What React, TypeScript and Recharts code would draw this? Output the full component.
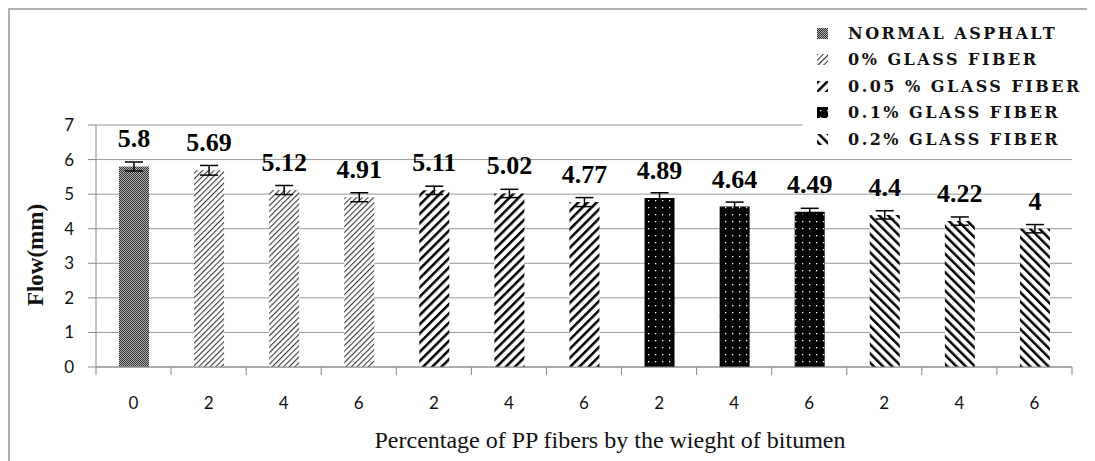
import { BarChart, Bar, XAxis, YAxis, CartesianGrid, Cell, ErrorBar, LabelList, Legend, Label } from "recharts";

const categories = ["0", "2", "4", "6", "2", "4", "6", "2", "4", "6", "2", "4", "6"];
const flowValues = [5.8, 5.69, 5.12, 4.91, 5.11, 5.02, 4.77, 4.89, 4.64, 4.49, 4.4, 4.22, 4];
const flowErrors = [0.13, 0.14, 0.13, 0.13, 0.12, 0.12, 0.13, 0.15, 0.13, 0.1, 0.12, 0.12, 0.12];
const groupOf = [0, 1, 1, 1, 2, 2, 2, 3, 3, 3, 4, 4, 4];
const legendNames = [
  "NORMAL ASPHALT",
  "0% GLASS FIBER",
  "0.05 % GLASS FIBER",
  "0.1% GLASS FIBER",
  "0.2% GLASS FIBER",
];
const yTicks = [0, 1, 2, 3, 4, 5, 6, 7];

const W = 1087;
const H = 453;
const MARGIN = { top: 117, right: 23, left: 8, bottom: 8 };
const Y_AXIS_W = 80;
const PLOT_W = W - MARGIN.left - MARGIN.right - Y_AXIS_W;
const STEP = PLOT_W / categories.length;

const data = categories.map((c, i) => ({
  idx: i,
  label: c,
  flow: flowValues[i],
  err: flowErrors[i],
  group: groupOf[i],
}));

const patId = (g: number) => `pat-${g}`;

const XTick = (props: any) => {
  const { x, y, payload, index } = props;
  const axisY = y - 30;
  const left = x - STEP / 2;
  return (
    <g>
      <line x1={left} x2={left} y1={axisY} y2={axisY + 8} stroke="#888" />
      {index === categories.length - 1 && (
        <line x1={x + STEP / 2} x2={x + STEP / 2} y1={axisY} y2={axisY + 8} stroke="#888" />
      )}
      <text x={x} y={y} dy="0.71em" textAnchor="middle" fontFamily="Lato" fontSize={17} fill="#111">
        {categories[payload.value]}
      </text>
    </g>
  );
};

const renderLegend = () => (
  <div style={{ background: "#fff", padding: "6px 0 6px 14px" }}>
    {legendNames.map((name, g) => (
      <div key={name} style={{ display: "flex", alignItems: "center", height: 26.5 }}>
        <svg width={11} height={11} style={{ marginRight: 20 }}>
          <rect width={11} height={11} fill={`url(#${patId(g)})`} />
        </svg>
        <span
          style={{
            fontFamily: "DejaVu Serif, serif",
            fontWeight: "bold",
            fontSize: 16,
            letterSpacing: 2.5,
            color: "#111",
            whiteSpace: "nowrap",
          }}
        >
          {name}
        </span>
      </div>
    ))}
  </div>
);

export default function App() {
  return (
    <div style={{ position: "relative", width: W, height: H, background: "#fff" }}>
      <BarChart width={W} height={H} data={data} margin={MARGIN}>
        <defs>
          <pattern id={patId(0)} width={2} height={2} patternUnits="userSpaceOnUse">
            <rect width={2} height={2} fill="#b0b0b0" />
            <rect width={1} height={1} fill="#333" />
            <rect x={1} y={1} width={1} height={1} fill="#333" />
          </pattern>
          <pattern id={patId(1)} width={4} height={4} patternUnits="userSpaceOnUse" patternTransform="rotate(45)">
            <rect width={4} height={4} fill="#fff" />
            <line x1={0} y1={0} x2={0} y2={4} stroke="#3a3a3a" strokeWidth={2.2} />
          </pattern>
          <pattern id={patId(2)} width={6.5} height={6.5} patternUnits="userSpaceOnUse" patternTransform="rotate(45)">
            <rect width={6.5} height={6.5} fill="#fff" />
            <line x1={0} y1={0} x2={0} y2={6.5} stroke="#000" strokeWidth={5} />
          </pattern>
          <pattern id={patId(3)} width={7} height={7} patternUnits="userSpaceOnUse">
            <rect width={7} height={7} fill="#000" />
            <rect x={3} y={3} width={1.3} height={1.3} fill="#fff" />
          </pattern>
          <pattern id={patId(4)} width={6.5} height={6.5} patternUnits="userSpaceOnUse" patternTransform="rotate(-45)">
            <rect width={6.5} height={6.5} fill="#fff" />
            <line x1={0} y1={0} x2={0} y2={6.5} stroke="#000" strokeWidth={5} />
          </pattern>
        </defs>
        <CartesianGrid horizontal vertical={false} stroke="#9a9a9a" />
        <XAxis
          dataKey="idx"
          type="category"
          height={86}
          tickLine={false}
          tickSize={8}
          tickMargin={22}
          axisLine={{ stroke: "#888" }}
          tick={<XTick />}
          interval={0}
        >
          <Label
            content={({ viewBox }: any) => (
              <text
                x={viewBox.x + viewBox.width / 2 + 26}
                y={viewBox.y + 75}
                textAnchor="middle"
                dominantBaseline="middle"
                fontFamily="Liberation Serif"
                fontSize={24}
                fill="#111"
              >
                Percentage of PP fibers by the wieght of bitumen
              </text>
            )}
          />
        </XAxis>
        <YAxis
          width={Y_AXIS_W}
          domain={[0, 7]}
          ticks={yTicks}
          interval={0}
          tickSize={8}
          tickMargin={14}
          axisLine={{ stroke: "#888" }}
          tickLine={{ stroke: "#888" }}
          tick={{ fontFamily: "Lato", fontSize: 17, fill: "#111" }}
        >
          <Label
            content={({ viewBox }: any) => {
              const cx = viewBox.x + 22;
              const cy = viewBox.y + viewBox.height / 2 + 9;
              return (
                <text
                  x={cx}
                  y={cy}
                  transform={`rotate(-90 ${cx} ${cy})`}
                  textAnchor="middle"
                  dominantBaseline="middle"
                  fontFamily="Liberation Serif"
                  fontWeight="bold"
                  fontSize={23}
                  fill="#111"
                >
                  Flow(mm)
                </text>
              );
            }}
          />
        </YAxis>
        <Legend
          layout="vertical"
          align="center"
          verticalAlign="middle"
          content={renderLegend}
          wrapperStyle={{ top: 6, left: 795, width: 292, height: "auto" }}
        />
        <Bar dataKey="flow" barSize={30} isAnimationActive={false}>
          {data.map((d) => (
            <Cell key={d.idx} fill={`url(#${patId(d.group)})`} />
          ))}
          <ErrorBar dataKey="err" width={9} stroke="#000" strokeWidth={1.5} direction="y" />
          <LabelList
            dataKey="flow"
            position="top"
            offset={19}
            fontFamily="Liberation Serif"
            fontWeight="bold"
            fontSize={26}
            fill="#000"
          />
        </Bar>
      </BarChart>
      <div
        style={{
          position: "absolute",
          left: 0,
          top: 0,
          width: W,
          height: H,
          borderLeft: "2px solid #b0b0b0",
          borderTop: "2px solid #b0b0b0",
          boxSizing: "border-box",
          pointerEvents: "none",
        }}
      />
    </div>
  );
}
